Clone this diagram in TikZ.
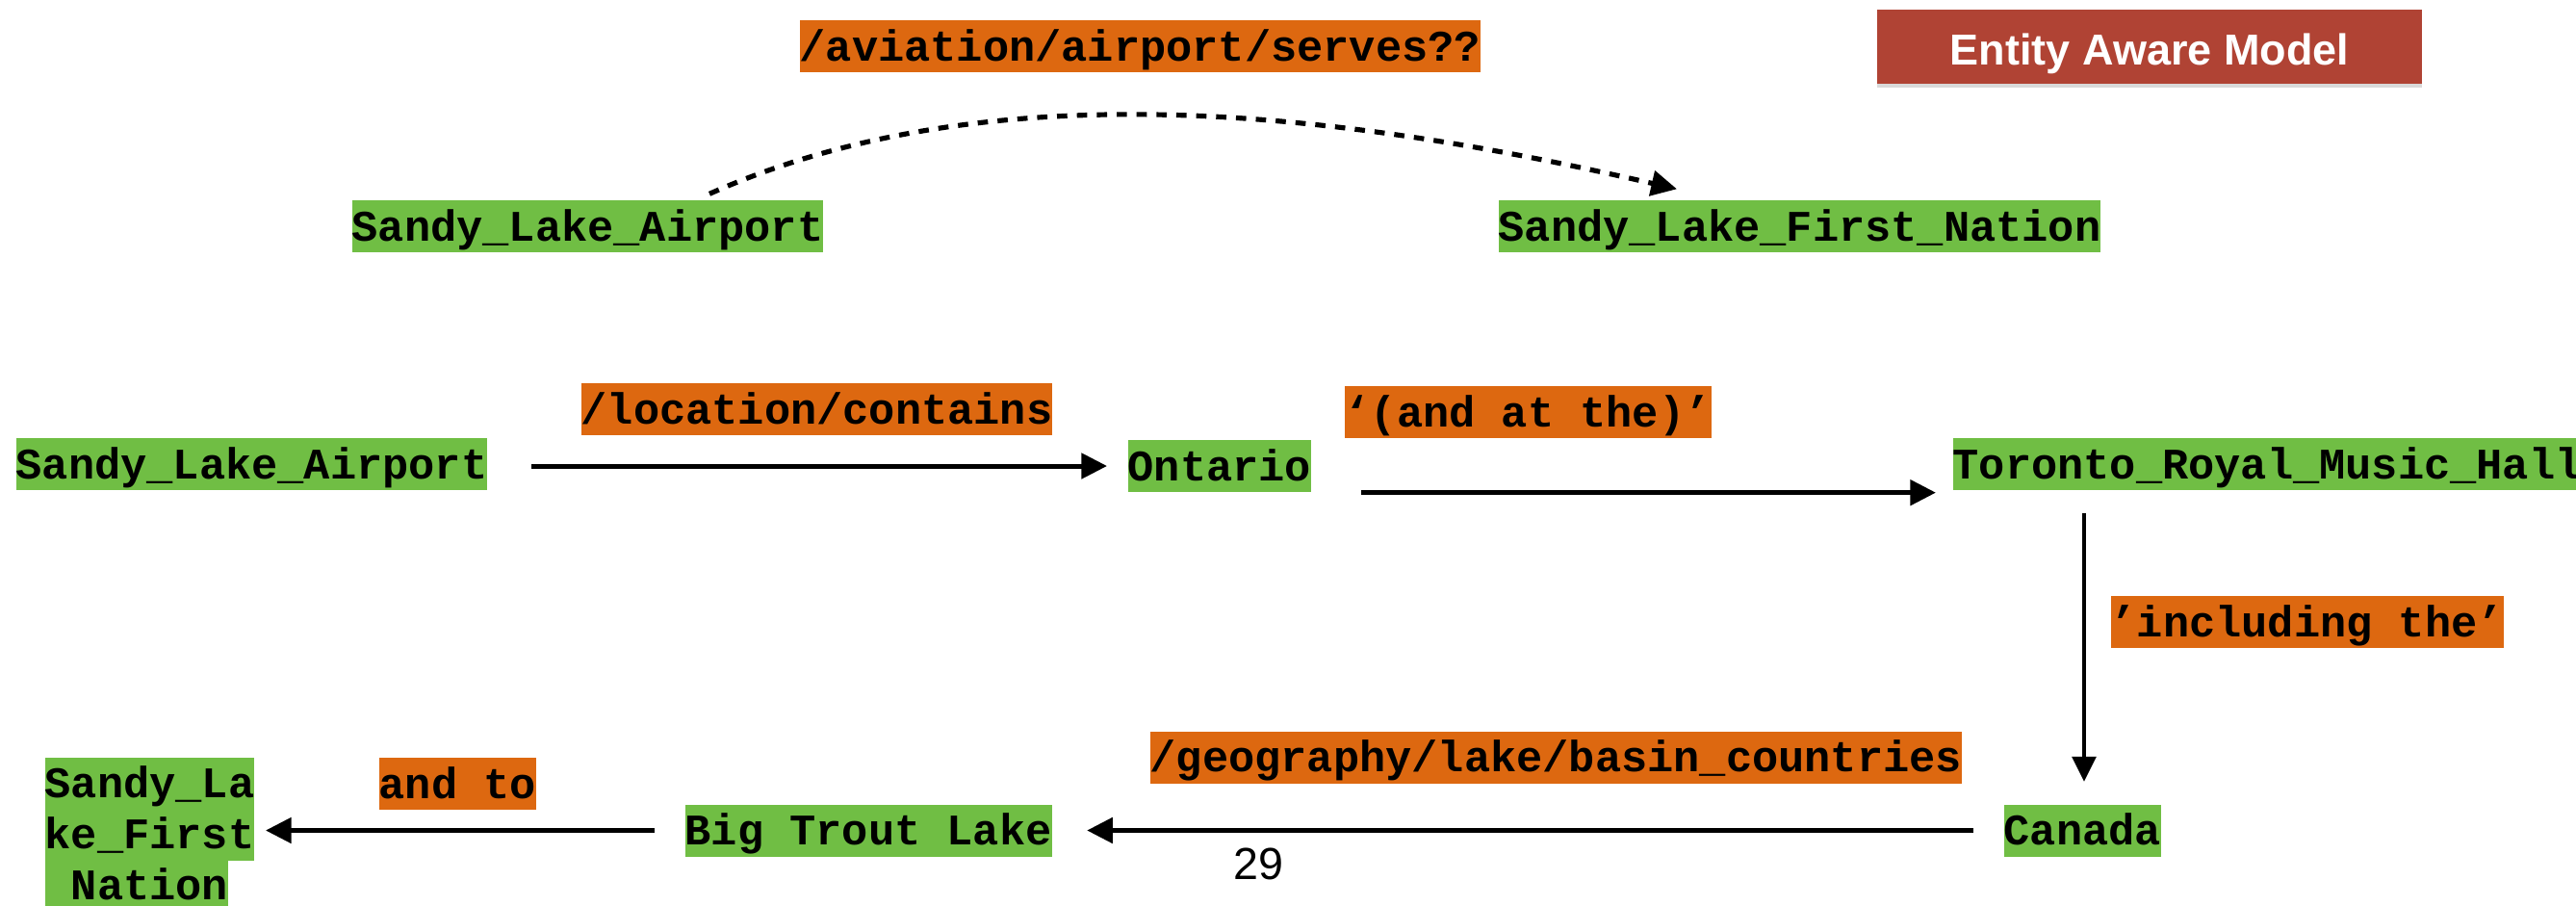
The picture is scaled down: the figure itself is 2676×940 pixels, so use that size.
\documentclass[tikz,border=0pt]{standalone}
\usepackage{fontspec}
\usetikzlibrary{arrows.meta,calc,shadows}
\newfontfamily\cour{Liberation Mono}
\newfontfamily\helv{Liberation Sans}
\definecolor{entgreen}{RGB}{112,190,68}
\definecolor{relorange}{RGB}{221,104,16}
\definecolor{boxred}{RGB}{176,67,52}
\tikzset{
  lbl/.style={inner xsep=0pt, inner ysep=0pt, text height=12.6pt, text depth=3.6pt,
    anchor=west, font=\cour\bfseries\fontsize{13.6pt}{16pt}\selectfont},
  ent/.style={lbl, fill=entgreen},
  rel/.style={lbl, fill=relorange},
  arr/.style={line width=1.5pt, -{Triangle[length=8pt,width=7.8pt]}},
  varr/.style={line width=1.15pt, -{Triangle[length=7.8pt,width=7.4pt]}},
  darr/.style={line width=1.55pt, dash pattern=on 3.2pt off 3pt, -{Triangle[length=8pt,width=7.8pt]}},
  titlebox/.style={fill=boxred, minimum width=169.8pt, minimum height=23.1pt, inner sep=0pt,
    text=white, text height=11.1pt, text depth=0pt,
    font=\helv\bfseries\fontsize{13.5pt}{16pt}\selectfont,
    drop shadow={shadow xshift=0pt, shadow yshift=-1.3pt, opacity=0.3}},
  pagenum/.style={font=\helv\fontsize{14pt}{16pt}\selectfont, anchor=base, inner sep=0pt}
}
\begin{document}
\begin{tikzpicture}[x=0.3pt,y=-0.3pt]
\useasboundingbox (0,0) rectangle (2676,940);

% title
\node[titlebox] (eam) at (2233,48.5) {Entity Aware Model};

% top row
\node[rel] (avi) at (830,48) {/aviation/airport/serves??};
\node[ent] (sla1) at (365,235) {Sandy\_Lake\_Airport};
\node[ent] (slfn1) at (1556,235) {Sandy\_Lake\_First\_Nation};

% middle row
\node[ent] (sla2) at (16,482) {Sandy\_Lake\_Airport};
\node[rel] (loc) at (603,425) {/location/contains};
\node[ent] (ont) at (1171,484) {Ontario};
\node[rel] (andat) at (1396,428) {‘(and at the)’};
\node[ent] (tor) at (2028,482) {Toronto\_Royal\_Music\_Hall};
\node[rel] (incl) at (2192,646) {’including the’};

% bottom row
\node[rel] (geo) at (1194,786.5) {/geography/lake/basin\_countries};
\node[ent] (can) at (2081,862.5) {Canada};
\node[ent] (btl) at (711,862.5) {Big Trout Lake};
\node[rel] (andto) at (393,814) {and to};
\node[ent] (slfnA) at (46,813.5) {Sandy\_La};
\node[ent] (slfnB) at (46,866.5) {ke\_First};
\node[ent] (slfnC) at (46,919.5) {\hphantom{N}Nation};

\node[pagenum] (pg) at (1307,913) {29};

% connectors
\draw[darr] ($(sla1.north east)+(-119,-6)$) .. controls +(303,-135) and +(-322,-74) .. ($(slfn1.north west)+(186,-11)$);
\draw[arr] ($(sla2.east)+(45,2)$) -- ($(ont.west)+(-21,0)$);
\draw[arr] ($(ont.south east)+(51,0)$) -- ($(tor.south west)+(-17,2)$);
\draw[varr] ($(tor.south west)+(137,23)$) -- ($(can.north west)+(84,-23)$);
\draw[arr] ($(can.west)+(-31,0)$) -- ($(btl.east)+(36,0)$);
\draw[arr] ($(btl.west)+(-31,0)$) -- ($(slfnB.east)+(11,-4)$);
\end{tikzpicture}
\end{document}
